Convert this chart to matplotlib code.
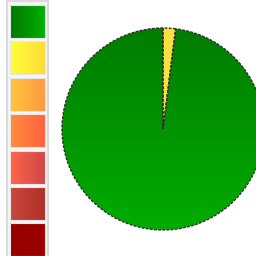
import matplotlib
matplotlib.use("Agg")
import matplotlib.pyplot as plt
import numpy as np
from matplotlib.colors import LinearSegmentedColormap
from matplotlib.patches import Rectangle

# severity levels shown in the colour key (no text labels in the picture)
levels = ["0", "1", "2", "3", "4", "5", "6"]
shares = [98, 2, 0, 0, 0, 0, 0]
left_colors = ["#007800", "#ffff38", "#ffc43c", "#ff8c3c", "#ff6448", "#c84840", "#960000"]
right_colors = ["#00b000", "#ffdc38", "#ff9a40", "#ff6440", "#d04848", "#b03028", "#9c0000"]
# pie fill: top -> bottom gradient
pie_top = ["#007c00", "#f8e040", "#ffb040", "#ff7840", "#e05048", "#bc3c34", "#960000"]
pie_bottom = ["#00ac00", "#f8e450", "#ffb040", "#ff7840", "#e05048", "#bc3c34", "#960000"]

fig = plt.figure(figsize=(2.56, 2.56), dpi=100)

# colour key on the left
bg = fig.add_axes([0, 0, 1, 1])
bg.set_xlim(0, 256)
bg.set_ylim(256, 0)
bg.axis("off")
bg.add_patch(Rectangle((7, 1), 41, 256, fc="#f6f6f6", ec="#dadada", lw=1.5))
ramp = np.linspace(0, 1, 32).reshape(1, -1)
for i, (c0, c1) in enumerate(zip(left_colors, right_colors)):
    top = 5 + i * 36.4
    cmap = LinearSegmentedColormap.from_list("k" + levels[i], [c0, c1])
    bg.imshow(ramp, cmap=cmap, extent=(10, 45, top + 33, top), aspect="auto",
              interpolation="bilinear", zorder=2)
    bg.add_patch(Rectangle((10, top), 35, 33, fill=False, ec="#e6e6e6", lw=0.8, zorder=3))

# pie on the right
lim = 1.02
size = 202 * lim
pax = fig.add_axes([(163 - size / 2) / 256, (127 - size / 2) / 256, size / 256, size / 256])
idx = [i for i, s in enumerate(shares) if s > 0]
wedges, _ = pax.pie([shares[i] for i in idx], colors=[pie_top[i] for i in idx],
                    startangle=90, counterclock=True,
                    wedgeprops=dict(edgecolor="#303030", linewidth=1.0, linestyle=(0, (2, 1))))
vgrad = np.linspace(0, 1, 64).reshape(-1, 1)
for w, i in zip(wedges, idx):
    cmap = LinearSegmentedColormap.from_list("p" + levels[i], [pie_top[i], pie_bottom[i]])
    im = pax.imshow(vgrad, cmap=cmap, extent=(-1, 1, -1, 1), origin="upper",
                    aspect="auto", interpolation="bilinear", zorder=0.9)
    im.set_clip_path(w)
    w.set_facecolor("none")
pax.set_xlim(-lim, lim)
pax.set_ylim(-lim, lim)
pax.set_aspect("equal")
pax.axis("off")

fig.savefig("out.png", dpi=100)
